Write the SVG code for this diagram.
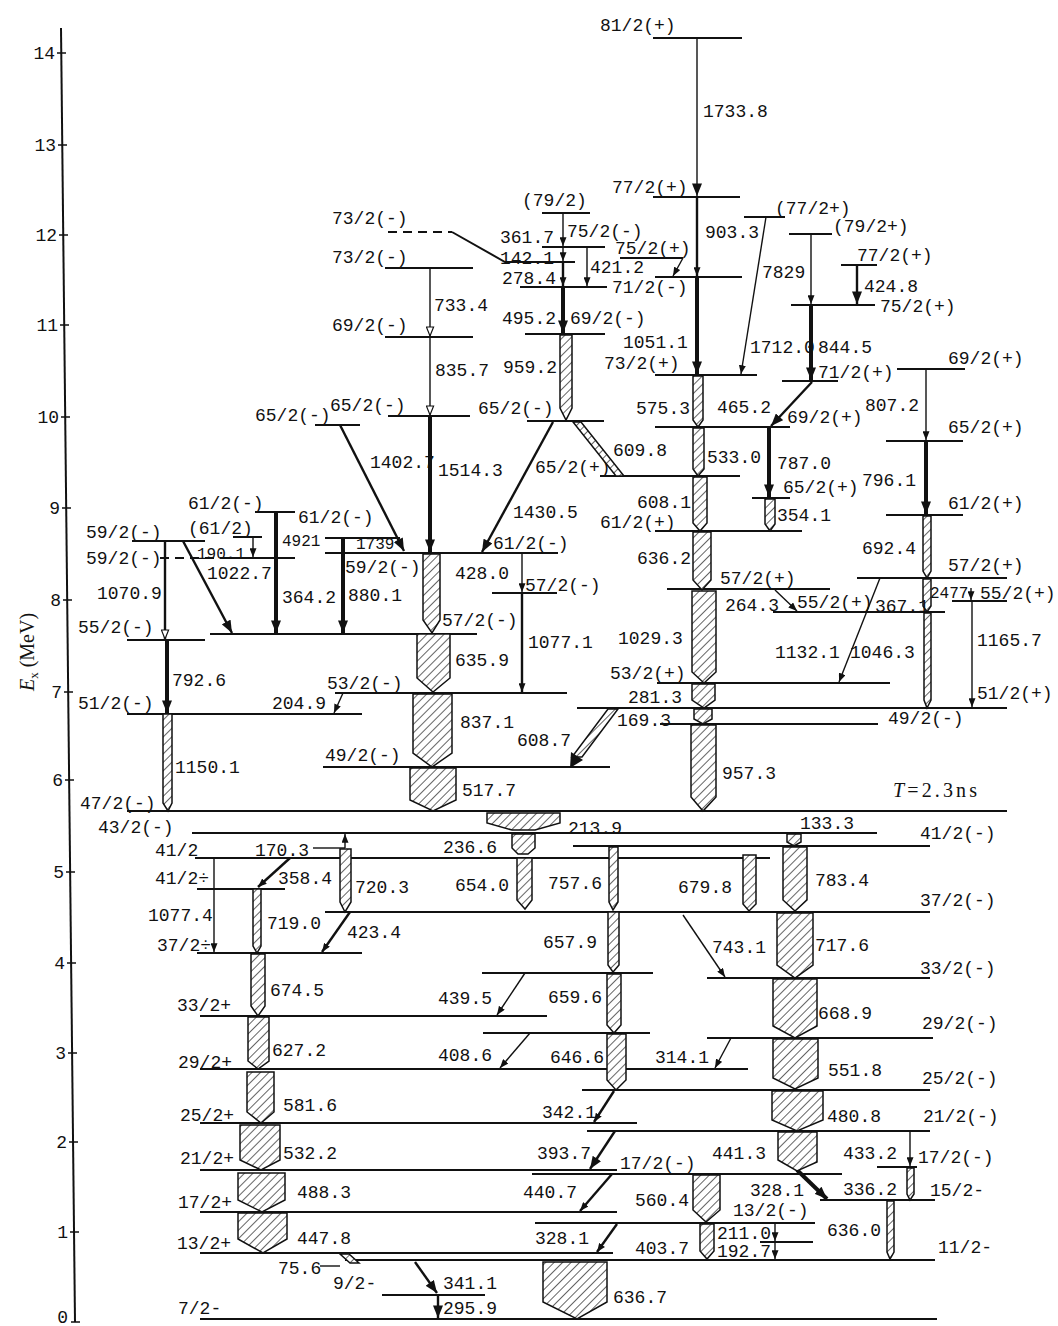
<svg xmlns="http://www.w3.org/2000/svg" width="1058" height="1326" viewBox="0 0 1058 1326">
<style>
.l{stroke:#111;stroke-width:2;fill:none}
.d{stroke:#111;stroke-width:2;fill:none;stroke-dasharray:9 6}
.t{stroke:#111;stroke-width:1.4;fill:none}
.m{stroke:#111;stroke-width:2.4;fill:none}
.k{stroke:#111;stroke-width:4;fill:none}
.h{fill:url(#hatch);stroke:#111;stroke-width:1.5}
text{font-family:"Liberation Mono","DejaVu Sans Mono",monospace;font-size:18px;fill:#111}
.ax{font-family:"Liberation Serif",serif;font-size:17px}
.sm{font-size:16px}
</style>
<defs>
<pattern id="hatch" patternUnits="userSpaceOnUse" width="6" height="6" patternTransform="rotate(45)"><rect width="6" height="6" fill="#fff"/><line x1="0" y1="0" x2="0" y2="6" stroke="#111" stroke-width="1.3"/></pattern>
<marker id="a" viewBox="0 0 10 8" refX="10" refY="4" markerWidth="9" markerHeight="7" orient="auto" markerUnits="userSpaceOnUse"><path d="M0,0L10,4L0,8z" fill="#111"/></marker>
<marker id="ab" viewBox="0 0 10 8" refX="10" refY="4" markerWidth="13" markerHeight="10" orient="auto" markerUnits="userSpaceOnUse"><path d="M0,0L10,4L0,8z" fill="#111"/></marker>
<marker id="ao" viewBox="0 0 12 10" refX="11" refY="5" markerWidth="11" markerHeight="9" orient="auto" markerUnits="userSpaceOnUse"><path d="M1,1L11,5L1,9z" fill="#fff" stroke="#111" stroke-width="1.3"/></marker>
</defs>
<rect width="1058" height="1326" fill="#fff"/>

<g id="axis">
<line x1="61" y1="28" x2="75" y2="1322" class="l"/>
<path class="t" d="M57,53h9M58,145h9M59,235h9M60,325h9M61,417h9M62,508h9M63,600h9M64,692h9M65,780h9M66,872h9M67,963h9M68,1053h9M69,1142h9M70,1232h9M71,1322h9"/>
<g class="ax" text-anchor="end">
<text x="55" y="59">14</text><text x="56" y="151">13</text><text x="57" y="241">12</text><text x="58" y="331">11</text><text x="59" y="423">10</text><text x="60" y="514">9</text><text x="61" y="606">8</text><text x="62" y="698">7</text><text x="63" y="786">6</text><text x="64" y="878">5</text><text x="65" y="969">4</text><text x="66" y="1059">3</text><text x="67" y="1148">2</text><text x="68" y="1238">1</text><text x="68" y="1323">0</text>
</g>
<text class="ax" style="font-size:20px" transform="translate(34,652) rotate(-90)" text-anchor="middle"><tspan font-style="italic">E</tspan><tspan font-size="13" dy="4">x</tspan><tspan dy="-4"> (MeV)</tspan></text>
</g>

<g id="levels">
<g id="lv81"><line class="l" x1="653" y1="38" x2="742" y2="38"/><text x="600" y="31">81/2(+)</text></g>
<g id="lv77p"><line class="l" x1="653" y1="197" x2="740" y2="197"/><text x="612" y="193">77/2(+)</text></g>
<g id="lv79"><line class="l" x1="542" y1="213" x2="590" y2="213"/><text x="522" y="206">(79/2)</text></g>
<g id="lv75m"><line class="l" x1="542" y1="247" x2="605" y2="247"/><text x="567" y="237">75/2(-)</text></g>
<g id="lv73m-d"><line class="d" x1="388" y1="232" x2="452" y2="232"/><path class="l" d="M452,232L505,262H575"/><text x="332" y="224">73/2(-)</text></g>
<g id="lv73m"><line class="l" x1="385" y1="268" x2="473" y2="268"/><text x="332" y="263">73/2(-)</text></g>
<g id="lv75p"><line class="l" x1="620" y1="258" x2="683" y2="258"/><text x="615" y="254">75/2(+)</text></g>
<g id="lv75p-b"><line class="l" x1="655" y1="277" x2="742" y2="277"/></g>
<g id="lv71m"><line class="l" x1="520" y1="287" x2="607" y2="287"/><text x="612" y="293">71/2(-)</text></g>
<g id="lv77p2"><line class="l" x1="744" y1="217" x2="785" y2="217"/><text x="775" y="214">(77/2+)</text></g>
<g id="lv79p"><line class="l" x1="789" y1="234" x2="832" y2="234"/><text x="833" y="232">(79/2+)</text></g>
<g id="lv77p3"><line class="l" x1="841" y1="265" x2="877" y2="265"/><text x="857" y="261">77/2(+)</text></g>
<g id="lv75p3"><line class="l" x1="791" y1="305" x2="875" y2="305"/><text x="880" y="312">75/2(+)</text></g>
<g id="lv69m"><line class="l" x1="385" y1="337" x2="473" y2="337"/><text x="332" y="331">69/2(-)</text></g>
<g id="lv69m2"><line class="l" x1="525" y1="334" x2="605" y2="334"/><text x="570" y="324">69/2(-)</text></g>
<g id="lv73p"><line class="l" x1="655" y1="375" x2="757" y2="375"/><text x="604" y="369">73/2(+)</text></g>
<g id="lv69p-r"><line class="l" x1="897" y1="369" x2="965" y2="369"/><text x="948" y="364">69/2(+)</text></g>
<g id="lv71p"><line class="l" x1="782" y1="381" x2="838" y2="381"/><text x="818" y="378">71/2(+)</text></g>
<g id="lv65m"><line class="l" x1="388" y1="416" x2="470" y2="416"/><text x="330" y="411">65/2(-)</text></g>
<g id="lv65m-l"><line class="l" x1="315" y1="425" x2="360" y2="425"/><text x="255" y="421">65/2(-)</text></g>
<g id="lv65m2"><line class="l" x1="527" y1="421" x2="604" y2="421"/><text x="478" y="414">65/2(-)</text></g>
<g id="lv69p"><line class="l" x1="655" y1="427" x2="790" y2="427"/><text x="787" y="423">69/2(+)</text></g>
<g id="lv65p-r"><line class="l" x1="886" y1="441" x2="963" y2="441"/><text x="948" y="433">65/2(+)</text></g>
<g id="lv65p"><line class="l" x1="600" y1="476" x2="740" y2="476"/><text x="535" y="473">65/2(+)</text></g>
<g id="lv65p-s"><line class="l" x1="752" y1="498" x2="790" y2="498"/><text x="783" y="493">65/2(+)</text></g>
<g id="lv61p"><line class="l" x1="655" y1="531" x2="802" y2="531"/><text x="600" y="528">61/2(+)</text></g>
<g id="lv61p-r"><line class="l" x1="886" y1="515" x2="963" y2="515"/><text x="948" y="509">61/2(+)</text></g>
<g id="lv61m-l"><line class="l" x1="255" y1="512" x2="295" y2="512"/><text x="188" y="509">61/2(-)</text></g>
<g id="lv61-p"><line class="l" x1="233" y1="537" x2="262" y2="537"/><text x="188" y="534">(61/2)</text></g>
<g id="lv61m-r"><line class="l" x1="325" y1="538" x2="400" y2="538"/><text x="298" y="523">61/2(-)</text></g>
<g id="lv59m-u"><line class="l" x1="132" y1="541" x2="205" y2="541"/><text x="86" y="538">59/2(-)</text></g>
<g id="lv59m-d"><line class="d" x1="160" y1="558" x2="225" y2="558"/><line class="l" x1="225" y1="558" x2="295" y2="558"/><text x="86" y="564">59/2(-)</text></g>
<g id="lv61m-c"><line class="l" x1="325" y1="553" x2="558" y2="553"/><text x="493" y="549">61/2(-)</text><text x="345" y="573">59/2(-)</text></g>
<g id="lv57m-s"><line class="l" x1="492" y1="593" x2="557" y2="593"/><text x="525" y="591">57/2(-)</text></g>
<g id="lv57m"><line class="l" x1="210" y1="634" x2="477" y2="634"/><text x="442" y="626">57/2(-)</text></g>
<g id="lv55m"><line class="l" x1="127" y1="640" x2="205" y2="640"/><text x="78" y="633">55/2(-)</text></g>
<g id="lv57p"><line class="l" x1="667" y1="589" x2="830" y2="589"/><text x="720" y="584">57/2(+)</text></g>
<g id="lv57p-r"><line class="l" x1="857" y1="578" x2="1007" y2="578"/><text x="948" y="571">57/2(+)</text></g>
<g id="lv55p-r"><line class="l" x1="952" y1="601" x2="1007" y2="601"/><text x="980" y="599">55/2(+)</text></g>
<g id="lv55p"><line class="l" x1="773" y1="612" x2="945" y2="612"/><text x="797" y="608">55/2(+)</text></g>
<g id="lv53m"><line class="l" x1="335" y1="693" x2="567" y2="693"/><text x="327" y="689">53/2(-)</text></g>
<g id="lv53p"><line class="l" x1="657" y1="683" x2="890" y2="683"/><text x="610" y="679">53/2(+)</text></g>
<g id="lv51m"><line class="l" x1="127" y1="714" x2="362" y2="714"/><text x="78" y="709">51/2(-)</text></g>
<g id="lv51p"><line class="l" x1="577" y1="708" x2="1007" y2="708"/><text x="977" y="699">51/2(+)</text></g>
<g id="lv49m-r"><line class="l" x1="660" y1="724" x2="878" y2="724"/><text x="888" y="724">49/2(-)</text></g>
<g id="lv49m"><line class="l" x1="323" y1="767" x2="610" y2="767"/><text x="325" y="761">49/2(-)</text></g>
<g id="lv47m"><line class="l" x1="127" y1="811" x2="1007" y2="811"/><text x="80" y="809">47/2(-)</text><text x="893" y="797" style="font-family:'Liberation Serif',serif;font-size:20px" textLength="84"><tspan font-style="italic">T</tspan>=2.3ns</text></g>
<g id="lv43m"><line class="l" x1="192" y1="833" x2="877" y2="833"/><text x="98" y="833">43/2(-)</text></g>
<g id="lv41m"><line class="l" x1="573" y1="846" x2="930" y2="846"/><text x="920" y="839">41/2(-)</text></g>
<g id="lv41"><line class="l" x1="195" y1="858" x2="770" y2="858"/><text x="155" y="856">41/2</text></g>
<g id="lv41p"><line class="l" x1="197" y1="889" x2="285" y2="889"/><text x="155" y="884">41/2÷</text></g>
<g id="lv37m"><line class="l" x1="325" y1="912" x2="930" y2="912"/><text x="920" y="906">37/2(-)</text></g>
<g id="lv37p"><line class="l" x1="197" y1="953" x2="362" y2="953"/><text x="157" y="951">37/2÷</text></g>
<g id="lv-973"><line class="l" x1="482" y1="973" x2="653" y2="973"/></g>
<g id="lv33m"><line class="l" x1="707" y1="978" x2="930" y2="978"/><text x="920" y="974">33/2(-)</text></g>
<g id="lv33p"><line class="l" x1="200" y1="1016" x2="547" y2="1016"/><text x="177" y="1011">33/2+</text></g>
<g id="lv-1033"><line class="l" x1="483" y1="1033" x2="650" y2="1033"/></g>
<g id="lv29m"><line class="l" x1="707" y1="1038" x2="933" y2="1038"/><text x="922" y="1029">29/2(-)</text></g>
<g id="lv29p"><line class="l" x1="200" y1="1069" x2="748" y2="1069"/><text x="178" y="1068">29/2+</text></g>
<g id="lv25m"><line class="l" x1="582" y1="1090" x2="930" y2="1090"/><text x="922" y="1084">25/2(-)</text></g>
<g id="lv25p"><line class="l" x1="200" y1="1123" x2="637" y2="1123"/><text x="180" y="1121">25/2+</text></g>
<g id="lv21m"><line class="l" x1="587" y1="1131" x2="930" y2="1131"/><text x="923" y="1122">21/2(-)</text></g>
<g id="lv21p"><line class="l" x1="200" y1="1170" x2="617" y2="1170"/><text x="180" y="1164">21/2+</text></g>
<g id="lv17m"><line class="l" x1="532" y1="1174" x2="842" y2="1174"/><text x="620" y="1169">17/2(-)</text></g>
<g id="lv17m-r"><line class="l" x1="877" y1="1167" x2="917" y2="1167"/><text x="918" y="1163">17/2(-)</text></g>
<g id="lv17p"><line class="l" x1="200" y1="1212" x2="617" y2="1212"/><text x="178" y="1208">17/2+</text></g>
<g id="lv15m"><line class="l" x1="820" y1="1200" x2="935" y2="1200"/><text x="930" y="1196">15/2-</text></g>
<g id="lv13m"><line class="l" x1="535" y1="1223" x2="815" y2="1223"/><text x="733" y="1216">13/2(-)</text></g>
<g id="lv-1242"><line class="l" x1="760" y1="1242" x2="813" y2="1242"/></g>
<g id="lv13p"><line class="l" x1="200" y1="1253" x2="613" y2="1253"/><text x="177" y="1249">13/2+</text></g>
<g id="lv11m"><line class="l" x1="345" y1="1260" x2="935" y2="1260"/><text x="938" y="1253">11/2-</text></g>
<g id="lv9m"><line class="l" x1="382" y1="1295" x2="485" y2="1295"/><text x="333" y="1289">9/2-</text></g>
<g id="lv7m"><line class="l" x1="200" y1="1319" x2="937" y2="1319"/><text x="178" y="1314">7/2-</text></g>
</g>

<g id="connectors">
<line class="t" x1="697" y1="38" x2="697" y2="196" marker-end="url(#ab)"/>
<line class="m" x1="697" y1="197" x2="697" y2="276" marker-end="url(#a)"/>
<line class="k" x1="697" y1="277" x2="697" y2="374" marker-end="url(#ab)"/>
<line class="t" x1="563" y1="213" x2="563" y2="246" marker-end="url(#a)"/>
<line class="t" x1="563" y1="248" x2="563" y2="261" marker-end="url(#a)"/>
<line class="m" x1="563" y1="263" x2="563" y2="286" marker-end="url(#a)"/>
<line class="t" x1="587" y1="247" x2="587" y2="286" marker-end="url(#a)"/>
<line class="k" x1="563" y1="288" x2="563" y2="333" marker-end="url(#ab)"/>
<line class="t" x1="683" y1="258" x2="673" y2="276" marker-end="url(#a)"/>
<line class="t" x1="430" y1="268" x2="430" y2="336" marker-end="url(#ao)"/>
<line class="t" x1="430" y1="338" x2="430" y2="415" marker-end="url(#ao)"/>
<line class="k" x1="430" y1="417" x2="430" y2="552" marker-end="url(#ab)"/>
<line class="m" x1="340" y1="425" x2="404" y2="551" marker-end="url(#ab)"/>
<line class="m" x1="553" y1="422" x2="482" y2="552" marker-end="url(#ab)"/>
<line class="t" x1="766" y1="217" x2="741" y2="374" marker-end="url(#a)"/>
<line class="t" x1="811" y1="234" x2="811" y2="304" marker-end="url(#a)"/>
<line class="k" x1="811" y1="306" x2="811" y2="380" marker-end="url(#ab)"/>
<line class="m" x1="857" y1="265" x2="857" y2="304" marker-end="url(#ab)"/>
<line class="m" x1="812" y1="382" x2="771" y2="426" marker-end="url(#ab)"/>
<line class="k" x1="769" y1="428" x2="769" y2="497" marker-end="url(#ab)"/>
<line class="t" x1="926" y1="369" x2="926" y2="440" marker-end="url(#a)"/>
<line class="k" x1="926" y1="442" x2="926" y2="514" marker-end="url(#ab)"/>
<line class="t" x1="775" y1="590" x2="797" y2="611" marker-end="url(#a)"/>
<line class="t" x1="880" y1="578" x2="839" y2="682" marker-end="url(#a)"/>
<line class="t" x1="971" y1="588" x2="971" y2="600" marker-end="url(#a)"/>
<line class="t" x1="972" y1="601" x2="972" y2="707" marker-end="url(#a)"/>
<line class="m" x1="165" y1="541" x2="165" y2="639" marker-end="url(#ao)"/>
<line class="m" x1="183" y1="541" x2="232" y2="633" marker-end="url(#ab)"/>
<line class="t" x1="253" y1="537" x2="253" y2="557" marker-end="url(#a)"/>
<line class="k" x1="276" y1="512" x2="276" y2="633" marker-end="url(#ab)"/>
<line class="k" x1="343" y1="538" x2="343" y2="633" marker-end="url(#ab)"/>
<line class="t" x1="522" y1="554" x2="522" y2="592" marker-end="url(#a)"/>
<line class="m" x1="522" y1="594" x2="522" y2="692" marker-end="url(#a)"/>
<line class="k" x1="167" y1="640" x2="167" y2="713" marker-end="url(#ab)"/>
<line class="t" x1="343" y1="693" x2="334" y2="713" marker-end="url(#a)"/>
<polygon class="h" points="608,709 618,709 582,757 572,757"/>
<polygon points="570,768 583,760 571,752" fill="#111"/>
<polygon class="h" points="573,422 581,422 624,476 616,476"/>
<line class="m" x1="290" y1="858" x2="258" y2="887" marker-end="url(#a)"/>
<line class="m" x1="350" y1="912" x2="322" y2="952" marker-end="url(#a)"/>
<line class="t" x1="214" y1="858" x2="214" y2="952" marker-end="url(#a)"/>
<line class="t" x1="345" y1="848" x2="345" y2="834" marker-end="url(#a)"/>
<line class="t" x1="313" y1="848" x2="345" y2="848"/>
<line class="t" x1="525" y1="973" x2="497" y2="1015" marker-end="url(#a)"/>
<line class="t" x1="530" y1="1033" x2="500" y2="1068" marker-end="url(#a)"/>
<line class="m" x1="614" y1="1091" x2="594" y2="1122" marker-end="url(#a)"/>
<line class="m" x1="615" y1="1131" x2="590" y2="1169" marker-end="url(#ab)"/>
<line class="m" x1="612" y1="1174" x2="580" y2="1211" marker-end="url(#a)"/>
<line class="m" x1="617" y1="1224" x2="597" y2="1252" marker-end="url(#a)"/>
<line class="t" x1="731" y1="1038" x2="715" y2="1068" marker-end="url(#a)"/>
<line class="t" x1="683" y1="915" x2="725" y2="977" marker-end="url(#a)"/>
<line class="k" x1="797" y1="1170" x2="827" y2="1199" marker-end="url(#ab)"/>
<line class="t" x1="910" y1="1131" x2="910" y2="1166" marker-end="url(#a)"/>
<line class="t" x1="775" y1="1223" x2="775" y2="1241" marker-end="url(#a)"/>
<line class="t" x1="775" y1="1243" x2="775" y2="1259" marker-end="url(#a)"/>
<line class="m" x1="415" y1="1262" x2="437" y2="1293" marker-end="url(#ab)"/>
<line class="m" x1="438" y1="1295" x2="438" y2="1318" marker-end="url(#ab)"/>
<line class="t" x1="320" y1="1266" x2="340" y2="1266"/>

<polygon class="h" points="238,1213 287,1213 287,1239 263,1253 238,1239"/>
<polygon class="h" points="238,1173 285,1173 285,1200 262,1212 238,1200"/>
<polygon class="h" points="240,1125 280,1125 280,1160 261,1170 240,1160"/>
<polygon class="h" points="247,1072 274,1072 274,1112 261,1123 247,1112"/>
<polygon class="h" points="248,1017 269,1017 269,1061 258,1069 248,1061"/>
<polygon class="h" points="251,954 265,954 265,1006 258,1016 251,1006"/>
<polygon class="h" points="253,889 261,889 261,946 257,953 253,946"/>
<polygon class="h" points="340,849 351,849 351,902 345,912 340,902"/>
<polygon class="h" points="163,714 172,714 172,803 168,811 163,803"/>
<polygon class="h" points="423,554 440,554 440,620 432,633 423,620"/>
<polygon class="h" points="417,634 450,634 450,678 433,692 417,678"/>
<polygon class="h" points="413,694 452,694 452,753 432,767 413,753"/>
<polygon class="h" points="410,768 456,768 456,800 433,811 410,800"/>
<polygon class="h" points="487,813 560,813 560,823 535,830 512,830 487,823"/>
<polygon class="h" points="512,834 535,834 535,848 528,854 518,854 512,848"/>
<polygon class="h" points="517,858 532,858 532,900 525,909 517,900"/>
<polygon class="h" points="609,847 618,847 618,902 613,910 609,902"/>
<polygon class="h" points="608,912 619,912 619,965 613,972 608,965"/>
<polygon class="h" points="607,974 621,974 621,1025 614,1033 607,1025"/>
<polygon class="h" points="607,1034 626,1034 626,1080 616,1090 607,1080"/>
<polygon class="h" points="560,335 572,335 572,408 566,420 560,408"/>
<polygon class="h" points="693,376 703,376 703,420 698,427 693,420"/>
<polygon class="h" points="693,428 704,428 704,469 698,476 693,469"/>
<polygon class="h" points="693,477 707,477 707,523 700,531 693,523"/>
<polygon class="h" points="693,532 711,532 711,580 702,590 693,580"/>
<polygon class="h" points="692,591 716,591 716,672 704,683 692,672"/>
<polygon class="h" points="692,684 715,684 715,700 704,708 692,700"/>
<polygon class="h" points="694,709 712,709 712,719 703,724 694,719"/>
<polygon class="h" points="691,725 716,725 716,797 703,811 691,797"/>
<polygon class="h" points="765,499 775,499 775,524 770,531 765,524"/>
<polygon class="h" points="923,516 931,516 931,571 927,578 923,571"/>
<polygon class="h" points="923,579 931,579 931,606 927,612 923,606"/>
<polygon class="h" points="924,613 931,613 931,700 927,708 924,700"/>
<polygon class="h" points="787,834 801,834 801,842 794,846 787,842"/>
<polygon class="h" points="783,847 807,847 807,900 795,911 783,900"/>
<polygon class="h" points="743,855 756,855 756,904 749,911 743,904"/>
<polygon class="h" points="777,913 813,913 813,965 795,978 777,965"/>
<polygon class="h" points="773,979 817,979 817,1026 795,1038 773,1026"/>
<polygon class="h" points="773,1039 818,1039 818,1078 795,1089 773,1078"/>
<polygon class="h" points="772,1091 823,1091 823,1120 797,1131 772,1120"/>
<polygon class="h" points="778,1132 817,1132 817,1162 797,1171 778,1160"/>
<polygon class="h" points="693,1175 720,1175 720,1210 706,1222 693,1210"/>
<polygon class="h" points="700,1224 714,1224 714,1251 707,1259 700,1251"/>
<polygon class="h" points="887,1201 894,1201 894,1252 890,1259 887,1252"/>
<polygon class="h" points="907,1168 914,1168 914,1194 910,1200 907,1194"/>
<polygon class="h" points="543,1262 607,1262 607,1302 577,1319 543,1302"/>
<polygon class="h" points="340,1254 349,1254 359,1263 350,1263"/>

<text x="703" y="117">1733.8</text>
<text x="705" y="238">903.3</text>
<text x="762" y="278">7829</text>
<text x="864" y="292">424.8</text>
<text x="500" y="243">361.7</text>
<text x="500" y="264">142.1</text>
<text x="590" y="273">421.2</text>
<text x="502" y="284">278.4</text>
<text x="434" y="311">733.4</text>
<text x="502" y="324">495.2</text>
<text x="623" y="348">1051.1</text>
<text x="750" y="353">1712.0</text>
<text x="818" y="353">844.5</text>
<text x="435" y="376">835.7</text>
<text x="503" y="373">959.2</text>
<text x="636" y="414">575.3</text>
<text x="717" y="413">465.2</text>
<text x="865" y="411">807.2</text>
<text x="370" y="468">1402.7</text>
<text x="438" y="476">1514.3</text>
<text x="613" y="456">609.8</text>
<text x="707" y="463">533.0</text>
<text x="777" y="469">787.0</text>
<text x="862" y="486">796.1</text>
<text x="637" y="508">608.1</text>
<text x="513" y="518">1430.5</text>
<text x="777" y="521">354.1</text>
<text x="282" y="546" class="sm">4921</text>
<text x="356" y="549" class="sm">1739</text>
<text x="197" y="559" class="sm">190.1</text>
<text x="862" y="554">692.4</text>
<text x="637" y="564">636.2</text>
<text x="207" y="579">1022.7</text>
<text x="455" y="579">428.0</text>
<text x="930" y="598" class="sm">2477</text>
<text x="97" y="599">1070.9</text>
<text x="282" y="603">364.2</text>
<text x="348" y="601">880.1</text>
<text x="725" y="611">264.3</text>
<text x="875" y="612">367.1</text>
<text x="618" y="644">1029.3</text>
<text x="528" y="648">1077.1</text>
<text x="977" y="646">1165.7</text>
<text x="775" y="658">1132.1</text>
<text x="850" y="658">1046.3</text>
<text x="455" y="666">635.9</text>
<text x="172" y="686">792.6</text>
<text x="628" y="703">281.3</text>
<text x="272" y="709">204.9</text>
<text x="617" y="726">169.3</text>
<text x="460" y="728">837.1</text>
<text x="517" y="746">608.7</text>
<text x="175" y="773">1150.1</text>
<text x="722" y="779">957.3</text>
<text x="462" y="796">517.7</text>
<text x="800" y="829">133.3</text>
<text x="568" y="834">213.9</text>
<text x="443" y="853">236.6</text>
<text x="255" y="856">170.3</text>
<text x="278" y="884">358.4</text>
<text x="355" y="893">720.3</text>
<text x="455" y="891">654.0</text>
<text x="548" y="889">757.6</text>
<text x="678" y="893">679.8</text>
<text x="815" y="886">783.4</text>
<text x="148" y="921">1077.4</text>
<text x="267" y="929">719.0</text>
<text x="347" y="938">423.4</text>
<text x="543" y="948">657.9</text>
<text x="712" y="953">743.1</text>
<text x="815" y="951">717.6</text>
<text x="270" y="996">674.5</text>
<text x="438" y="1004">439.5</text>
<text x="548" y="1003">659.6</text>
<text x="818" y="1019">668.9</text>
<text x="272" y="1056">627.2</text>
<text x="438" y="1061">408.6</text>
<text x="550" y="1063">646.6</text>
<text x="655" y="1063">314.1</text>
<text x="828" y="1076">551.8</text>
<text x="283" y="1111">581.6</text>
<text x="542" y="1118">342.1</text>
<text x="827" y="1122">480.8</text>
<text x="283" y="1159">532.2</text>
<text x="537" y="1159">393.7</text>
<text x="712" y="1159">441.3</text>
<text x="843" y="1159">433.2</text>
<text x="523" y="1198">440.7</text>
<text x="297" y="1198">488.3</text>
<text x="750" y="1196">328.1</text>
<text x="843" y="1195">336.2</text>
<text x="635" y="1206">560.4</text>
<text x="827" y="1236">636.0</text>
<text x="717" y="1239">211.0</text>
<text x="297" y="1244">447.8</text>
<text x="535" y="1244">328.1</text>
<text x="717" y="1257">192.7</text>
<text x="635" y="1254">403.7</text>
<text x="278" y="1274">75.6</text>
<text x="443" y="1289">341.1</text>
<text x="613" y="1303">636.7</text>
<text x="443" y="1314">295.9</text>
</g>
</svg>
